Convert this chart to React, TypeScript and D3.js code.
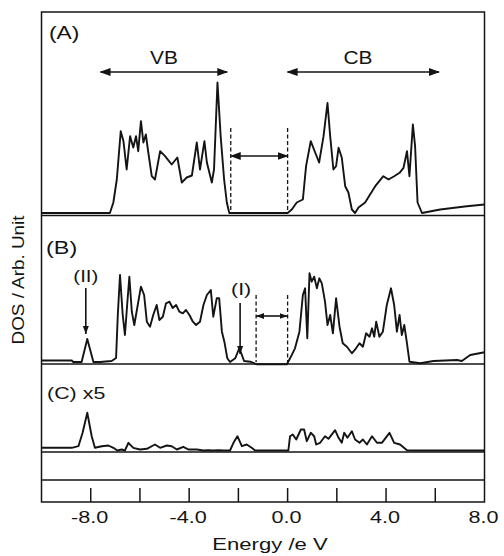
import React from 'react';
import * as d3 from 'd3';

// energy axis
const energyTicks = [-8, -6, -4, -2, 0, 2, 4, 6];
const energyLabels = [-8, -4, 0, 4, 8];

// (A) total DOS  [energy eV, DOS arb.]
const dosA: [number, number][] = [
  [-10, 0], [-7.22, 0], [-7.08, 1.05], [-6.94, 3.35], [-6.78, 8.18], [-6.67, 7.18], [-6.54, 4.35],
  [-6.4, 7.68], [-6.27, 6.55], [-6.16, 7.68], [-6.07, 6.18], [-5.96, 9.18], [-5.86, 7.05], [-5.76, 7.85],
  [-5.66, 6.05], [-5.52, 3.68], [-5.39, 3.35], [-5.18, 6.18], [-4.98, 5.68], [-4.71, 4.85], [-4.48, 5.55],
  [-4.3, 3.05], [-4.1, 3.55], [-3.89, 3.75], [-3.69, 7.05], [-3.56, 4.35], [-3.38, 7.18], [-3.28, 5.05],
  [-3.08, 3.05], [-2.99, 4.35], [-2.85, 13.05], [-2.72, 7.68], [-2.58, 3.35], [-2.47, 1.05], [-2.37, 0],
  [0, 0], [0.17, 0.35], [0.37, 1.05], [0.62, 1.35], [0.75, 4.68], [0.94, 7.18], [1.12, 6.05], [1.28, 5.05],
  [1.46, 7.68], [1.62, 11.0], [1.73, 7.68], [1.86, 4.35], [1.97, 4.68], [2.07, 6.52], [2.2, 5.55],
  [2.34, 2.68], [2.47, 2.05], [2.61, 0.35], [2.74, 0], [2.88, 0.55], [3.15, 1.05], [3.35, 1.85],
  [3.56, 2.68], [3.89, 3.68], [4.1, 3.35], [4.33, 3.68], [4.55, 4.02], [4.71, 4.52], [4.85, 6.18],
  [4.95, 3.68], [5.09, 8.85], [5.18, 6.68], [5.28, 1.05], [5.46, 0], [6.2, 0.35], [7.28, 0.68], [8.0, 0.85],
];

// (B)
const dosB: [number, number][] = [
  [-10, 0.15], [-8.77, 0.15], [-8.71, 0], [-8.37, 0], [-8.14, 2.3], [-7.89, 0], [-7.62, 0], [-7.15, 0.1],
  [-6.97, 0.4], [-6.9, 4.7], [-6.81, 8.7], [-6.7, 4.7], [-6.61, 2.7], [-6.51, 6.03], [-6.43, 8.53],
  [-6.33, 5.03], [-6.23, 3.7], [-6.11, 5.4], [-5.96, 7.53], [-5.83, 6.7], [-5.72, 4.03], [-5.59, 3.53],
  [-5.46, 4.7], [-5.32, 5.7], [-5.21, 4.2], [-5.07, 4.53], [-4.94, 5.87], [-4.8, 6.03], [-4.67, 5.4],
  [-4.53, 5.7], [-4.4, 5.03], [-4.26, 4.87], [-4.13, 5.2], [-3.99, 4.7], [-3.85, 4.03], [-3.72, 3.7],
  [-3.56, 4.03], [-3.42, 5.7], [-3.28, 6.7], [-3.12, 7.2], [-3.02, 4.53], [-2.88, 6.37], [-2.78, 6.37],
  [-2.67, 3.03], [-2.57, 2.03], [-2.45, 0.37], [-2.34, 0], [-2.13, 0.37], [-1.96, 1.4], [-1.77, 0.1],
  [-1.52, 0.03], [-1.25, -0.23], [-0.03, -0.23], [0.1, 0.37], [0.3, 1.37], [0.48, 3.03], [0.62, 6.7],
  [0.71, 7.37], [0.8, 2.37], [0.89, 8.87], [0.98, 8.03], [1.08, 8.53], [1.19, 7.37], [1.29, 8.37],
  [1.39, 7.87], [1.52, 6.03], [1.62, 3.7], [1.73, 4.7], [1.84, 2.87], [1.97, 6.37], [2.11, 3.53],
  [2.24, 1.87], [2.41, 1.53], [2.61, 0.87], [2.78, 1.37], [2.92, 1.87], [3.06, 1.53], [3.19, 2.87],
  [3.33, 2.53], [3.43, 3.37], [3.52, 2.53], [3.6, 4.03], [3.73, 2.53], [3.87, 3.03], [4.03, 5.7],
  [4.2, 7.37], [4.33, 5.7], [4.44, 3.03], [4.55, 4.7], [4.64, 2.7], [4.74, 3.7], [4.85, 1.87],
  [4.95, 0.03], [5.39, -0.13], [5.93, 0.1], [6.88, 0.2], [7.08, 0.1], [7.42, 0.7], [8.0, 0.97],
];

// (C) x5
const dosC: [number, number][] = [
  [-10, 0.27], [-8.77, 0.27], [-8.5, 0.43], [-8.33, 1.77], [-8.14, 3.77], [-7.96, 1.43], [-7.83, 0.27],
  [-7.55, 0.43], [-7.28, 0.5], [-7.08, 0.27], [-6.92, 0], [-6.74, 0.1], [-6.61, 0], [-6.47, 0.77],
  [-6.27, 0.27], [-6.0, 0.1], [-5.72, 0.17], [-5.39, 0.6], [-5.18, 0.27], [-4.91, 0.5], [-4.71, 0.43],
  [-4.5, 0.1], [-4.24, 0.37], [-4.03, 0.1], [-3.69, 0.1], [-3.42, 0], [-3.22, 0.03], [-3.02, 0],
  [-2.81, 0.03], [-2.61, 0], [-2.34, 0], [-2.2, 0.77], [-2.04, 1.43], [-1.86, 0.43], [-1.66, 0.6],
  [-1.46, 0.27], [-1.32, 0], [0.03, 0], [0.1, 1.43], [0.21, 1.6], [0.35, 1.1], [0.54, 2.1], [0.67, 2.1],
  [0.78, 0.93], [0.94, 1.77], [1.08, 1.43], [1.16, 0.6], [1.32, 0.77], [1.52, 1.43], [1.66, 1.17],
  [1.93, 2.03], [2.07, 1.27], [2.2, 0.77], [2.3, 1.77], [2.43, 1.27], [2.61, 1.93], [2.74, 1.1],
  [2.92, 0.77], [3.06, 1.1], [3.22, 0.6], [3.43, 1.43], [3.63, 0.77], [3.83, 0.77], [4.14, 1.77],
  [4.33, 0.77], [4.57, 0.6], [4.85, 0.03], [5.11, 0], [8.0, 0],
];

// band edges (eV)
const vbRange = [-7.6, -2.45];
const cbRange = [0, 6.15];
const gapA = [-2.31, 0];
const gapB = [-1.28, 0];
const peakII = -8.2;
const peakI = -1.93;

const FONT = 'Liberation Sans, Arial, sans-serif';
const INK = '#141414';

export default function App() {
  const x = d3.scaleLinear().domain([-10, 8]).range([41.5, 484.5]);
  const yA = d3.scaleLinear().domain([0, 20]).range([213, 13]);
  const yB = d3.scaleLinear().domain([0, 15]).range([362, 212]);
  const yC = d3.scaleLinear().domain([0, 10]).range([450.5, 350.5]);

  const path = (y: d3.ScaleLinear<number, number>, d: [number, number][]) =>
    d3.line<[number, number]>().x(p => x(p[0])).y(p => y(p[1]))(d) || '';

  const left = x(-10), right = x(8);
  const txt = (s: string, tx: number, ty: number, size: number, sx: number, anchor = 'start') => (
    <text transform={`translate(${tx},${ty}) scale(${sx},1)`} fontSize={size} fontFamily={FONT}
      fill={INK} textAnchor={anchor}>{s}</text>
  );

  return (
    <svg width={504} height={556} style={{ position: 'absolute', left: 0, top: 0 }}>
      <defs>
        <marker id="ah" markerUnits="userSpaceOnUse" markerWidth={11} markerHeight={8} refX={10} refY={4}
          orient="auto-start-reverse">
          <path d="M0,0 L11,4 L0,8 z" fill={INK} />
        </marker>
        <marker id="ahs" markerUnits="userSpaceOnUse" markerWidth={8} markerHeight={7} refX={8} refY={3}
          orient="auto-start-reverse">
          <path d="M0,0 L8,3 L0,6 z" fill={INK} />
        </marker>
      </defs>
      <rect x={0} y={0} width={504} height={556} fill="#fff" />

      {/* frame */}
      <g stroke={INK} strokeWidth={1.5} fill="none">
        <rect x={left} y={12} width={right - left} height={490} />
        {[215.5, 364, 452, 480].map(v => <line key={v} x1={left} x2={right} y1={v} y2={v} />)}
        {energyTicks.map(t => <line key={t} x1={x(t)} x2={x(t)} y1={502} y2={488} />)}
      </g>

      {/* curves */}
      <g fill="none" stroke={INK} strokeWidth={1.9} strokeLinejoin="round">
        <path d={path(yA, dosA)} />
        <path d={path(yB, dosB)} />
        <path d={path(yC, dosC)} />
      </g>

      {/* annotations */}
      <g stroke={INK} strokeWidth={1.6}>
        <line x1={x(vbRange[0])} x2={x(vbRange[1])} y1={72} y2={72} markerStart="url(#ah)" markerEnd="url(#ah)" />
        <line x1={x(cbRange[0])} x2={x(cbRange[1])} y1={72} y2={72} markerStart="url(#ah)" markerEnd="url(#ah)" />
        <line x1={x(gapA[0])} x2={x(gapA[1])} y1={156} y2={156} markerStart="url(#ah)" markerEnd="url(#ah)" />
        <line x1={x(gapB[0])} x2={x(gapB[1])} y1={316} y2={316} markerStart="url(#ahs)" markerEnd="url(#ahs)" />
        <line x1={x(peakII)} x2={x(peakII)} y1={288} y2={334} markerEnd="url(#ahs)" />
        <line x1={x(peakI)} x2={x(peakI)} y1={303} y2={354} markerEnd="url(#ahs)" />
      </g>
      <g stroke={INK} strokeWidth={1.3} strokeDasharray="4,2.5">
        {gapA.map(e => <line key={e} x1={x(e)} x2={x(e)} y1={128} y2={213} />)}
        {gapB.map(e => <line key={e} x1={x(e)} x2={x(e)} y1={295} y2={362} />)}
      </g>

      {txt('(A)', 49, 39, 19, 1.2)}
      {txt('VB', (x(vbRange[0]) + x(vbRange[1])) / 2, 64, 19, 1.1, 'middle')}
      {txt('CB', 358, 64, 19, 1.1, 'middle')}
      {txt('(B)', 46, 254, 18, 1.3)}
      {txt('(II)', x(peakII), 282, 17, 1.2, 'middle')}
      {txt('(I)', x(peakI) + 1, 295, 17, 1.25, 'middle')}
      {txt('(C) x5', 47, 399, 17, 1.26)}

      {/* axis labels */}
      {energyLabels.map(t => (
        <g key={t}>{txt(t.toFixed(1), x(t) - 1, 523, 16, 1.35, 'middle')}</g>
      ))}
      {txt('Energy /e V', 270, 550, 17, 1.3, 'middle')}
      <text transform="translate(24,280) rotate(-90) scale(1.18,1)" fontSize={16} fontFamily={FONT}
        fill={INK} textAnchor="middle">DOS / Arb. Unit</text>
    </svg>
  );
}
